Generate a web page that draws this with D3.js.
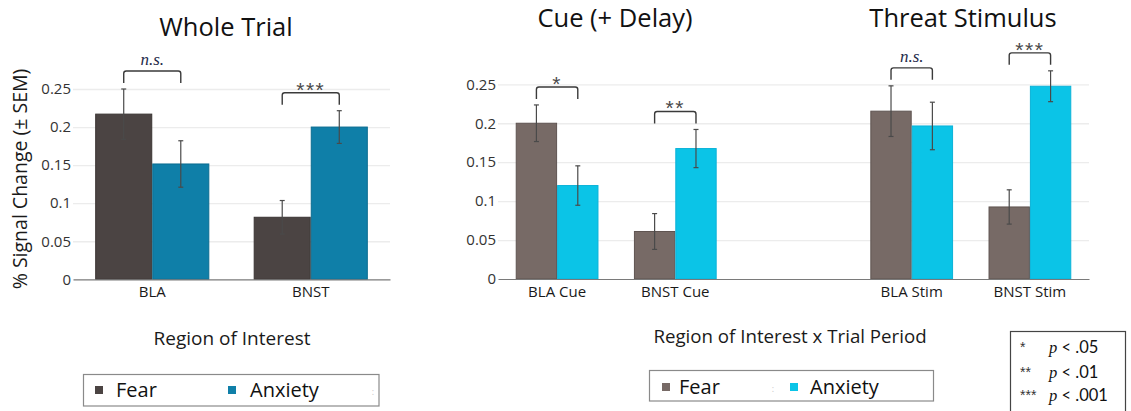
<!DOCTYPE html>
<html>
<head>
<meta charset="utf-8">
<script src="https://cdn.jsdelivr.net/npm/d3@7"></script>
<style>
  html, body { margin: 0; padding: 0; background: #fff; }
  svg { display: block; font-family: "Open Sans", sans-serif; }
</style>
</head>
<body>
<svg id="chart" width="1131" height="411"></svg>
<script>
// ---- data -------------------------------------------------------------
const wholeCategories = ["BLA", "BNST"];
const wholeFear = [0.217, 0.0815];
const wholeFearSem = [0.033, 0.022];
const wholeAnxiety = [0.1515, 0.2];
const wholeAnxietySem = [0.0305, 0.0215];
const wholeSig = ["n.s.", "***"];

const periodCategories = ["BLA Cue", "BNST Cue", "BLA Stim", "BNST Stim"];
const periodFear = [0.2, 0.061, 0.2155, 0.0925];
const periodFearSem = [0.0235, 0.023, 0.0325, 0.022];
const periodAnxiety = [0.12, 0.1675, 0.1965, 0.2475];
const periodAnxietySem = [0.0253, 0.0245, 0.0305, 0.0198];
const periodSig = ["*", "**", "n.s.", "***"];

const yTicks = [0, 0.05, 0.1, 0.15, 0.2, 0.25];
const yTickLabels = ["0", "0.05", "0.1", "0.15", "0.2", "0.25"];
const seriesNames = ["Fear", "Anxiety"];
const sigKey = [["*", "p", " < .05"], ["**", "p", " < .01"], ["***", "p", " < .001"]];

// ---- drawing ----------------------------------------------------------
const svg = d3.select("#chart");

function rows(cats, fear, fearSem, anx, anxSem, sig) {
  return cats.map((c, i) => ({
    cat: c, sig: sig[i],
    bars: [
      { key: "Fear", v: fear[i], sem: fearSem[i] },
      { key: "Anxiety", v: anx[i], sem: anxSem[i] }
    ]
  }));
}

function drawPanel(opt) {
  const g = svg.append("g");
  const x = d3.scaleBand().domain(opt.domain).range(opt.xRange)
    .paddingInner(opt.padInner).paddingOuter(opt.padOuter);
  const y = d3.scaleLinear().domain([0, 0.25]).range(opt.yRange);
  const inner = d3.scaleBand().domain(seriesNames).range([0, x.bandwidth()]);
  const color = d3.scaleOrdinal().domain(seriesNames).range(opt.colors);
  const stroke = d3.scaleOrdinal().domain(seriesNames).range(opt.strokes);

  // gridlines + y tick labels
  const yAxis = d3.axisLeft(y).tickValues(yTicks)
    .tickFormat((d, i) => yTickLabels[i])
    .tickSize(-(opt.xRange[1] - opt.xRange[0])).tickPadding(2);
  const ya = g.append("g").attr("transform", `translate(${opt.xRange[0]},0)`).call(yAxis);
  ya.select(".domain").remove();
  ya.selectAll(".tick line").attr("stroke", "#ececec").attr("stroke-width", 1.3)
    .filter(d => d === 0).remove();
  ya.selectAll(".tick text").attr("fill", "#333")
    .style("font-size", "15px").style("font-family", "'Open Sans', sans-serif");

  // bars
  const grp = g.selectAll(".grp").data(opt.rows).join("g")
    .attr("transform", d => `translate(${x(d.cat)},0)`);
  grp.selectAll("rect").data(d => d.bars).join("rect")
    .attr("x", d => inner(d.key) + 0.5)
    .attr("width", inner.bandwidth() - 1)
    .attr("y", d => y(d.v))
    .attr("height", d => y(0) - y(d.v))
    .attr("fill", d => color(d.key))
    .attr("stroke", d => stroke(d.key))
    .attr("stroke-width", 1);

  // error bars (± SEM)
  const eb = grp.selectAll(".eb").data(d => d.bars).join("g")
    .attr("transform", d => `translate(${inner(d.key) + inner.bandwidth() / 2},0)`);
  eb.append("line").attr("x1", 0).attr("x2", 0)
    .attr("y1", d => y(d.v + d.sem)).attr("y2", d => y(d.v - d.sem))
    .attr("stroke", "#4a4a4a").attr("stroke-width", 1.2);
  eb.selectAll(".cap").data(d => [d.v + d.sem, d.v - d.sem]).join("line")
    .attr("x1", -2.5).attr("x2", 2.5).attr("y1", d => y(d)).attr("y2", d => y(d))
    .attr("stroke", "#4a4a4a").attr("stroke-width", 1.2);

  // significance brackets
  grp.each(function (d) {
    const top = Math.min(...d.bars.map(b => y(b.v + b.sem))) - opt.bracketGap;
    const x1 = inner("Fear") + inner.bandwidth() / 2;
    const x2 = inner("Anxiety") + inner.bandwidth() / 2;
    const r = 2.5, leg = 12;
    d3.select(this).append("path")
      .attr("d", `M${x1},${top + leg} V${top + r} Q${x1},${top} ${x1 + r},${top} H${x2 - r} Q${x2},${top} ${x2},${top + r} V${top + leg}`)
      .attr("fill", "none").attr("stroke", "#3a3a3a").attr("stroke-width", 1.4);
    const cx = (x1 + x2) / 2;
    if (d.sig === "n.s.") {
      d3.select(this).append("text").attr("x", cx).attr("y", top - 6)
        .attr("text-anchor", "middle").attr("fill", "#1e2a4a")
        .style("font-family", "'Liberation Serif', serif").style("font-style", "italic")
        .style("font-size", "17px").text(d.sig);
    } else {
      d3.select(this).append("text").attr("x", cx).attr("y", top + 4)
        .attr("text-anchor", "middle").attr("fill", "#4a4a4a")
        .style("font-family", "'Liberation Sans', sans-serif").style("font-size", "21px")
        .attr("letter-spacing", "1.5px").text(d.sig);
    }
  });

  // x axis
  const xAxis = d3.axisBottom(x).tickSize(0).tickPadding(7)
    .tickFormat(d => opt.labels.includes(d) ? d : "");
  const xa = g.append("g").attr("transform", `translate(0,${y(0)})`).call(xAxis);
  xa.select(".domain").attr("stroke", "#7a7a7a").attr("stroke-width", 1.2);
  xa.selectAll(".tick text").attr("fill", "#1a1a1a")
    .style("font-size", "15px").style("font-family", "'Open Sans', sans-serif");

  return { x, y };
}

const wholeRows = rows(wholeCategories, wholeFear, wholeFearSem, wholeAnxiety, wholeAnxietySem, wholeSig);
const periodRows = rows(periodCategories, periodFear, periodFearSem, periodAnxiety, periodAnxietySem, periodSig);

drawPanel({
  domain: wholeCategories, labels: wholeCategories, rows: wholeRows,
  xRange: [73, 390], yRange: [279.3, 89],
  padInner: 0.28, padOuter: 0.14,
  colors: ["#4b4443", "#0f7fa8"], strokes: ["#3a3433", "#0b6c90"],
  bracketGap: 18
});

// a blank slot separates the cue and stimulus periods
const periodDomain = [periodCategories[0], periodCategories[1], "_gap", periodCategories[2], periodCategories[3]];
drawPanel({
  domain: periodDomain, labels: periodCategories, rows: periodRows,
  xRange: [498, 1089], yRange: [279, 84.3],
  padInner: 0.3, padOuter: 0.15,
  colors: ["#776a66", "#0bc4e7"], strokes: ["#5f5451", "#0ab2d8"],
  bracketGap: 18
});

// ---- titles and axis labels -------------------------------------------
function label(txt, x, y, size, opts = {}) {
  return svg.append("text").attr("x", x).attr("y", y)
    .attr("text-anchor", opts.anchor || "middle")
    .attr("fill", opts.fill || "#111")
    .style("font-size", size + "px")
    .style("font-family", opts.family || "'Open Sans', sans-serif")
    .text(txt);
}
label("Whole Trial", 226, 35.5, 25.5);
label("Cue (+ Delay)", 615, 27, 25.5);
label("Threat Stimulus", 963, 27, 25.5);
label("Region of Interest", 232, 345, 19, { fill: "#1a1a1a" });
label("Region of Interest x Trial Period", 790, 343, 18.7, { fill: "#1a1a1a" });
label("% Signal Change (± SEM)", 0, 0, 19.5, { fill: "#1a1a1a" })
  .attr("transform", "translate(27,179) rotate(-90)");

// ---- legends ------------------------------------------------------------
function legend(box, items, sep, textY, colors, size) {
  const g = svg.append("g");
  g.append("rect").attr("x", box[0]).attr("y", box[1]).attr("width", box[2]).attr("height", box[3])
    .attr("fill", "#fff").attr("stroke", "#8a8a8a").attr("stroke-width", 1.2);
  items.forEach((it, i) => {
    g.append("rect").attr("x", it.mx).attr("y", textY - 11).attr("width", 8).attr("height", 8)
      .attr("fill", colors[i]);
    g.append("text").attr("x", it.tx).attr("y", textY).attr("fill", "#111")
      .style("font-size", size + "px").text(seriesNames[i]);
  });
  g.append("text").attr("x", sep).attr("y", textY - 2).attr("fill", "#c8c8c8")
    .attr("text-anchor", "middle").style("font-size", "9px").text(":");
  return g;
}
legend([83.5, 374.5, 295.5, 31.5], [{ mx: 95, tx: 116 }, { mx: 228, tx: 250 }], 373, 397, ["#4b4443", "#0f7fa8"], 20);
legend([649.5, 370.5, 284, 30.5], [{ mx: 662, tx: 679 }, { mx: 790, tx: 810 }], 773, 394, ["#776a66", "#0bc4e7"], 20);

// ---- significance key -----------------------------------------------
const key = svg.append("g");
key.append("rect").attr("x", 1010.5).attr("y", 331.5).attr("width", 115).attr("height", 90)
  .attr("fill", "#fff").attr("stroke", "#444").attr("stroke-width", 1.2);
const keyRowY = [353, 378, 401];
sigKey.forEach((r, i) => {
  key.append("text").attr("x", 1020).attr("y", keyRowY[i] - 1).attr("fill", "#333")
    .style("font-family", "'Liberation Sans', sans-serif").style("font-size", "14px").text(r[0]);
  const t = key.append("text").attr("x", 1049).attr("y", keyRowY[i]).attr("fill", "#111")
    .style("font-size", "16.5px");
  t.append("tspan").style("font-family", "'Liberation Serif', serif").style("font-style", "italic").text(r[1]);
  t.append("tspan").style("font-family", "Lato, sans-serif").text(r[2]);
});
</script>
</body>
</html>
